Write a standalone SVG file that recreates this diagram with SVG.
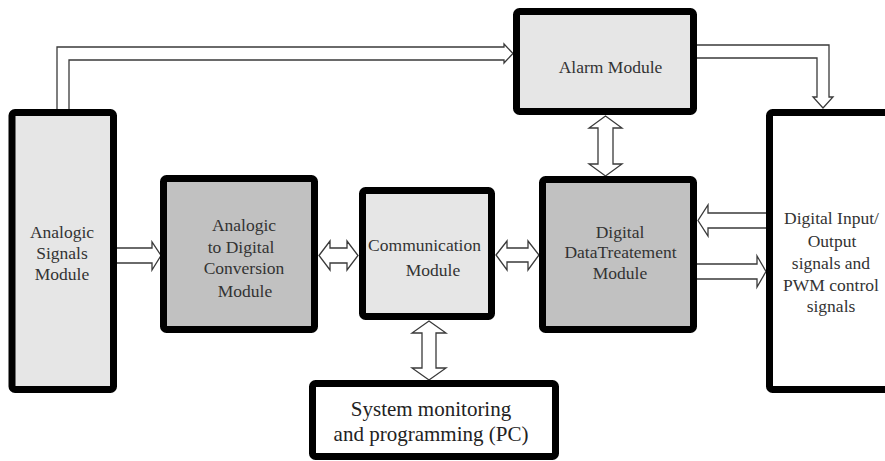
<svg xmlns="http://www.w3.org/2000/svg" width="885" height="461" viewBox="0 0 885 461">
<style>
.box{stroke:#000;stroke-width:7}
.light{fill:#e6e6e6}
.dark{fill:#c1c1c1}
.white{fill:#fff}
.arr{fill:#fff;stroke:#3a3a3a;stroke-width:1.3;stroke-linejoin:miter}
text{font-family:"Liberation Serif","Times New Roman",serif;fill:#333;text-anchor:middle;font-size:17.5px}
.pc{font-size:21px;fill:#222}
</style>
<rect width="885" height="461" fill="#fff"/>
<g id="connectors">
<path class="arr" d="M57,110 V47 H504 V44 L513,53.5 L504,63 V60 H69 V110"/>
<path class="arr" d="M697,45 H829 V97 H833 L823,108 L813,97 H817 V58 H697"/>
<path class="arr" d="M605.5,116 L622,128 H613 V164 H622 L605.5,176 L589,164 H598 V128 H589 Z"/>
<path class="arr" d="M117,248 H152 V242 L161,255.5 L152,270 V263 H117"/>
<path class="arr" d="M319,255.5 L330,241 V248 H347 V241 L358,255.5 L347,270 V263 H330 V270 Z"/>
<path class="arr" d="M496,255 L507,241 V248 H528 V241 L539,255 L528,270 V262 H507 V270 Z"/>
<path class="arr" d="M766,213 H708 V205 L698,220.5 L708,236 V228 H766"/>
<path class="arr" d="M697,264 H757 V256 L766,271.5 L757,287 V279 H697"/>
<path class="arr" d="M429,321 L446,333 H436 V368 H446 L429,380 L412,368 H422 V333 H412 Z"/>
</g>
<g id="analogic-signals">
<rect class="box light" x="12" y="112.5" width="101.5" height="277" rx="3"/>
<text x="62" y="238">Analogic</text>
<text x="62" y="259">Signals</text>
<text x="62" y="280">Module</text>
</g>
<g id="adc">
<rect class="box dark" x="163.5" y="178.5" width="151" height="151" rx="3"/>
<text x="244" y="231">Analogic</text>
<text x="241" y="253">to Digital</text>
<text x="244" y="274">Conversion</text>
<text x="245" y="297">Module</text>
</g>
<g id="communication">
<rect class="box light" x="362.5" y="190.5" width="129" height="126" rx="3"/>
<text x="424.5" y="251">Communication</text>
<text x="433" y="276">Module</text>
</g>
<g id="digital-data">
<rect class="box dark" x="542.5" y="179.5" width="151" height="150" rx="3"/>
<text x="620" y="238">Digital</text>
<text x="620.5" y="258">DataTreatement</text>
<text x="620" y="279">Module</text>
</g>
<g id="alarm">
<rect class="box light" x="516.5" y="11.5" width="177" height="100" rx="3"/>
<text x="610.5" y="73">Alarm Module</text>
</g>
<g id="digital-io">
<rect class="box white" x="769.5" y="112.5" width="140" height="277" rx="3"/>
<text x="831.5" y="224">Digital Input/</text>
<text x="832" y="247">Output</text>
<text x="831" y="269">signals and</text>
<text x="831" y="291">PWM control</text>
<text x="831" y="312">signals</text>
</g>
<g id="pc">
<rect class="box white" x="312.5" y="383.5" width="243" height="73" rx="3"/>
<text class="pc" x="431" y="416">System monitoring</text>
<text class="pc" x="431" y="441">and programming (PC)</text>
</g>
</svg>
